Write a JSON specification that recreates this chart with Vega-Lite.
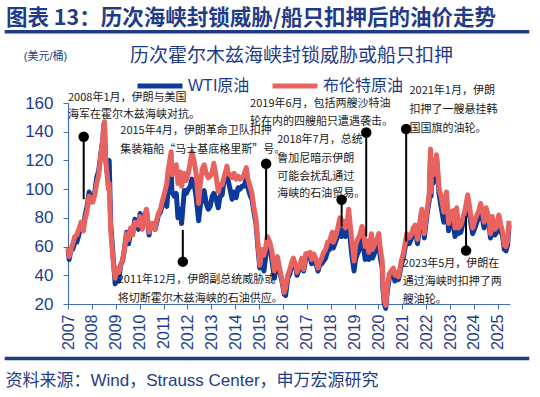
{
  "$schema": "https://vega.github.io/schema/vega-lite/v6.json",
  "width": 442,
  "height": 201,
  "autosize": {"type": "none"},
  "padding": {"left": 68, "top": 103, "right": 30, "bottom": 93},
  "background": "white",
  "config": {
    "view": {"stroke": null},
    "font": "Liberation Sans, Noto Sans CJK SC",
    "axis": {"labelOverlap": false}
  },
  "title": {
    "text": "图表 13：历次海峡封锁威胁/船只扣押后的油价走势",
    "anchor": "start",
    "frame": "bounds",
    "offset": 2,
    "dx": 3,
    "dy": 2,
    "fontSize": 21.5,
    "fontWeight": "bold",
    "font": "Noto Sans CJK SC",
    "color": "#1F3C88"
  },
  "datasets": {
    "prices": [
      {"date": "2007-01-03", "wti": 58, "brent": 59},
      {"date": "2007-01-18", "wti": 51, "brent": 53},
      {"date": "2007-02-15", "wti": 58, "brent": 58},
      {"date": "2007-03-15", "wti": 58, "brent": 62},
      {"date": "2007-04-15", "wti": 63, "brent": 67},
      {"date": "2007-05-15", "wti": 63, "brent": 68},
      {"date": "2007-06-15", "wti": 68, "brent": 72},
      {"date": "2007-07-20", "wti": 75, "brent": 77},
      {"date": "2007-08-20", "wti": 71, "brent": 71},
      {"date": "2007-09-20", "wti": 82, "brent": 79},
      {"date": "2007-10-20", "wti": 88, "brent": 85},
      {"date": "2007-11-20", "wti": 98, "brent": 95},
      {"date": "2007-12-15", "wti": 91, "brent": 92},
      {"date": "2008-01-15", "wti": 92, "brent": 91},
      {"date": "2008-02-15", "wti": 98, "brent": 96},
      {"date": "2008-03-15", "wti": 108, "brent": 104},
      {"date": "2008-04-15", "wti": 113, "brent": 110},
      {"date": "2008-05-15", "wti": 124, "brent": 123},
      {"date": "2008-06-15", "wti": 134, "brent": 134},
      {"date": "2008-07-03", "wti": 145, "brent": 145},
      {"date": "2008-07-11", "wti": 146, "brent": 147},
      {"date": "2008-07-25", "wti": 124, "brent": 124},
      {"date": "2008-08-15", "wti": 115, "brent": 113},
      {"date": "2008-09-10", "wti": 103, "brent": 100},
      {"date": "2008-09-22", "wti": 120, "brent": 104},
      {"date": "2008-10-15", "wti": 76, "brent": 72},
      {"date": "2008-11-15", "wti": 57, "brent": 53},
      {"date": "2008-12-22", "wti": 34, "brent": 38},
      {"date": "2009-01-15", "wti": 38, "brent": 45},
      {"date": "2009-02-15", "wti": 36, "brent": 42},
      {"date": "2009-03-15", "wti": 47, "brent": 47},
      {"date": "2009-04-15", "wti": 50, "brent": 51},
      {"date": "2009-05-15", "wti": 59, "brent": 58},
      {"date": "2009-06-15", "wti": 70, "brent": 69},
      {"date": "2009-07-15", "wti": 62, "brent": 65},
      {"date": "2009-08-15", "wti": 70, "brent": 73},
      {"date": "2009-09-15", "wti": 69, "brent": 68},
      {"date": "2009-10-20", "wti": 79, "brent": 77},
      {"date": "2009-11-15", "wti": 78, "brent": 77},
      {"date": "2009-12-15", "wti": 72, "brent": 75},
      {"date": "2010-01-08", "wti": 83, "brent": 81},
      {"date": "2010-02-10", "wti": 73, "brent": 72},
      {"date": "2010-03-15", "wti": 81, "brent": 79},
      {"date": "2010-04-15", "wti": 85, "brent": 86},
      {"date": "2010-05-25", "wti": 68, "brent": 70},
      {"date": "2010-06-15", "wti": 76, "brent": 76},
      {"date": "2010-07-15", "wti": 76, "brent": 76},
      {"date": "2010-08-25", "wti": 72, "brent": 72},
      {"date": "2010-09-15", "wti": 76, "brent": 78},
      {"date": "2010-10-15", "wti": 82, "brent": 83},
      {"date": "2010-11-15", "wti": 84, "brent": 86},
      {"date": "2010-12-15", "wti": 89, "brent": 92},
      {"date": "2011-01-15", "wti": 90, "brent": 97},
      {"date": "2011-02-20", "wti": 88, "brent": 104},
      {"date": "2011-03-15", "wti": 102, "brent": 114},
      {"date": "2011-04-28", "wti": 113, "brent": 126},
      {"date": "2011-05-10", "wti": 98, "brent": 110},
      {"date": "2011-06-15", "wti": 95, "brent": 113},
      {"date": "2011-07-15", "wti": 97, "brent": 117},
      {"date": "2011-08-10", "wti": 80, "brent": 104},
      {"date": "2011-09-15", "wti": 86, "brent": 112},
      {"date": "2011-10-04", "wti": 76, "brent": 102},
      {"date": "2011-11-15", "wti": 99, "brent": 111},
      {"date": "2011-12-15", "wti": 97, "brent": 106},
      {"date": "2012-01-15", "wti": 100, "brent": 111},
      {"date": "2012-02-15", "wti": 102, "brent": 119},
      {"date": "2012-03-10", "wti": 107, "brent": 126},
      {"date": "2012-04-15", "wti": 103, "brent": 119},
      {"date": "2012-05-15", "wti": 94, "brent": 110},
      {"date": "2012-06-21", "wti": 78, "brent": 90},
      {"date": "2012-07-15", "wti": 88, "brent": 103},
      {"date": "2012-08-15", "wti": 95, "brent": 114},
      {"date": "2012-09-14", "wti": 99, "brent": 117},
      {"date": "2012-10-15", "wti": 90, "brent": 111},
      {"date": "2012-11-15", "wti": 86, "brent": 108},
      {"date": "2012-12-15", "wti": 88, "brent": 109},
      {"date": "2013-01-15", "wti": 95, "brent": 112},
      {"date": "2013-02-08", "wti": 97, "brent": 118},
      {"date": "2013-03-15", "wti": 93, "brent": 109},
      {"date": "2013-04-17", "wti": 87, "brent": 98},
      {"date": "2013-05-15", "wti": 95, "brent": 103},
      {"date": "2013-06-15", "wti": 96, "brent": 103},
      {"date": "2013-07-19", "wti": 108, "brent": 109},
      {"date": "2013-08-28", "wti": 110, "brent": 116},
      {"date": "2013-09-15", "wti": 106, "brent": 111},
      {"date": "2013-10-15", "wti": 100, "brent": 110},
      {"date": "2013-11-15", "wti": 93, "brent": 108},
      {"date": "2013-12-15", "wti": 98, "brent": 111},
      {"date": "2014-01-15", "wti": 94, "brent": 107},
      {"date": "2014-02-15", "wti": 101, "brent": 109},
      {"date": "2014-03-15", "wti": 100, "brent": 107},
      {"date": "2014-04-15", "wti": 102, "brent": 108},
      {"date": "2014-05-15", "wti": 102, "brent": 110},
      {"date": "2014-06-20", "wti": 107, "brent": 115},
      {"date": "2014-07-15", "wti": 101, "brent": 107},
      {"date": "2014-08-15", "wti": 96, "brent": 102},
      {"date": "2014-09-15", "wti": 93, "brent": 97},
      {"date": "2014-10-15", "wti": 84, "brent": 87},
      {"date": "2014-11-15", "wti": 76, "brent": 79},
      {"date": "2014-12-15", "wti": 59, "brent": 62},
      {"date": "2015-01-13", "wti": 45, "brent": 47},
      {"date": "2015-02-15", "wti": 51, "brent": 58},
      {"date": "2015-03-17", "wti": 43, "brent": 54},
      {"date": "2015-04-15", "wti": 54, "brent": 60},
      {"date": "2015-05-06", "wti": 61, "brent": 67},
      {"date": "2015-06-15", "wti": 60, "brent": 63},
      {"date": "2015-07-15", "wti": 51, "brent": 57},
      {"date": "2015-08-24", "wti": 38, "brent": 43},
      {"date": "2015-09-15", "wti": 45, "brent": 48},
      {"date": "2015-10-09", "wti": 49, "brent": 53},
      {"date": "2015-11-15", "wti": 42, "brent": 44},
      {"date": "2015-12-21", "wti": 35, "brent": 36},
      {"date": "2016-01-20", "wti": 27, "brent": 28},
      {"date": "2016-02-11", "wti": 26, "brent": 31},
      {"date": "2016-03-15", "wti": 38, "brent": 40},
      {"date": "2016-04-15", "wti": 41, "brent": 44},
      {"date": "2016-05-15", "wti": 47, "brent": 49},
      {"date": "2016-06-08", "wti": 51, "brent": 52},
      {"date": "2016-07-15", "wti": 45, "brent": 47},
      {"date": "2016-08-03", "wti": 40, "brent": 42},
      {"date": "2016-09-15", "wti": 45, "brent": 47},
      {"date": "2016-10-15", "wti": 50, "brent": 52},
      {"date": "2016-11-14", "wti": 43, "brent": 44},
      {"date": "2016-12-15", "wti": 52, "brent": 55},
      {"date": "2017-01-15", "wti": 52, "brent": 55},
      {"date": "2017-02-15", "wti": 54, "brent": 56},
      {"date": "2017-03-15", "wti": 48, "brent": 51},
      {"date": "2017-04-15", "wti": 52, "brent": 55},
      {"date": "2017-05-15", "wti": 49, "brent": 52},
      {"date": "2017-06-21", "wti": 43, "brent": 45},
      {"date": "2017-07-15", "wti": 47, "brent": 49},
      {"date": "2017-08-15", "wti": 48, "brent": 52},
      {"date": "2017-09-15", "wti": 50, "brent": 56},
      {"date": "2017-10-15", "wti": 52, "brent": 58},
      {"date": "2017-11-15", "wti": 57, "brent": 63},
      {"date": "2017-12-15", "wti": 58, "brent": 64},
      {"date": "2018-01-25", "wti": 66, "brent": 70},
      {"date": "2018-02-09", "wti": 59, "brent": 63},
      {"date": "2018-03-15", "wti": 63, "brent": 67},
      {"date": "2018-04-15", "wti": 67, "brent": 72},
      {"date": "2018-05-22", "wti": 72, "brent": 80},
      {"date": "2018-06-15", "wti": 67, "brent": 75},
      {"date": "2018-07-10", "wti": 74, "brent": 78},
      {"date": "2018-08-15", "wti": 67, "brent": 73},
      {"date": "2018-09-15", "wti": 70, "brent": 79},
      {"date": "2018-10-03", "wti": 76, "brent": 86},
      {"date": "2018-11-15", "wti": 56, "brent": 66},
      {"date": "2018-12-24", "wti": 43, "brent": 50},
      {"date": "2019-01-15", "wti": 51, "brent": 60},
      {"date": "2019-02-15", "wti": 55, "brent": 65},
      {"date": "2019-03-15", "wti": 58, "brent": 67},
      {"date": "2019-04-24", "wti": 66, "brent": 74},
      {"date": "2019-05-15", "wti": 61, "brent": 71},
      {"date": "2019-06-12", "wti": 51, "brent": 60},
      {"date": "2019-07-15", "wti": 57, "brent": 64},
      {"date": "2019-08-07", "wti": 51, "brent": 56},
      {"date": "2019-09-16", "wti": 63, "brent": 69},
      {"date": "2019-10-03", "wti": 52, "brent": 58},
      {"date": "2019-11-15", "wti": 57, "brent": 63},
      {"date": "2019-12-15", "wti": 60, "brent": 66},
      {"date": "2020-01-06", "wti": 63, "brent": 69},
      {"date": "2020-01-31", "wti": 52, "brent": 58},
      {"date": "2020-02-28", "wti": 45, "brent": 50},
      {"date": "2020-03-09", "wti": 31, "brent": 34},
      {"date": "2020-03-30", "wti": 20, "brent": 23},
      {"date": "2020-04-21", "wti": 17, "brent": 19},
      {"date": "2020-05-15", "wti": 29, "brent": 32},
      {"date": "2020-06-15", "wti": 38, "brent": 41},
      {"date": "2020-07-15", "wti": 41, "brent": 43},
      {"date": "2020-08-15", "wti": 42, "brent": 45},
      {"date": "2020-09-08", "wti": 36, "brent": 40},
      {"date": "2020-10-15", "wti": 40, "brent": 42},
      {"date": "2020-11-02", "wti": 37, "brent": 39},
      {"date": "2020-12-15", "wti": 47, "brent": 50},
      {"date": "2021-01-15", "wti": 52, "brent": 55},
      {"date": "2021-02-15", "wti": 60, "brent": 63},
      {"date": "2021-03-08", "wti": 65, "brent": 69},
      {"date": "2021-04-15", "wti": 62, "brent": 66},
      {"date": "2021-05-15", "wti": 65, "brent": 68},
      {"date": "2021-06-15", "wti": 71, "brent": 73},
      {"date": "2021-07-15", "wti": 72, "brent": 75},
      {"date": "2021-08-20", "wti": 62, "brent": 65},
      {"date": "2021-09-15", "wti": 71, "brent": 74},
      {"date": "2021-10-25", "wti": 84, "brent": 86},
      {"date": "2021-11-15", "wti": 80, "brent": 82},
      {"date": "2021-12-02", "wti": 66, "brent": 69},
      {"date": "2022-01-15", "wti": 83, "brent": 86},
      {"date": "2022-02-15", "wti": 92, "brent": 96},
      {"date": "2022-03-08", "wti": 124, "brent": 128},
      {"date": "2022-03-16", "wti": 95, "brent": 98},
      {"date": "2022-03-24", "wti": 112, "brent": 121},
      {"date": "2022-04-15", "wti": 104, "brent": 110},
      {"date": "2022-05-15", "wti": 110, "brent": 112},
      {"date": "2022-06-08", "wti": 122, "brent": 124},
      {"date": "2022-07-15", "wti": 97, "brent": 101},
      {"date": "2022-08-15", "wti": 88, "brent": 95},
      {"date": "2022-09-26", "wti": 77, "brent": 84},
      {"date": "2022-10-15", "wti": 86, "brent": 93},
      {"date": "2022-11-07", "wti": 92, "brent": 98},
      {"date": "2022-12-09", "wti": 71, "brent": 76},
      {"date": "2023-01-15", "wti": 79, "brent": 84},
      {"date": "2023-02-15", "wti": 78, "brent": 85},
      {"date": "2023-03-17", "wti": 67, "brent": 73},
      {"date": "2023-04-12", "wti": 83, "brent": 87},
      {"date": "2023-05-04", "wti": 69, "brent": 73},
      {"date": "2023-06-15", "wti": 70, "brent": 75},
      {"date": "2023-07-15", "wti": 76, "brent": 80},
      {"date": "2023-08-15", "wti": 81, "brent": 85},
      {"date": "2023-09-27", "wti": 93, "brent": 96},
      {"date": "2023-10-15", "wti": 87, "brent": 91},
      {"date": "2023-11-15", "wti": 76, "brent": 81},
      {"date": "2023-12-12", "wti": 69, "brent": 73},
      {"date": "2024-01-15", "wti": 73, "brent": 78},
      {"date": "2024-02-15", "wti": 77, "brent": 82},
      {"date": "2024-03-15", "wti": 81, "brent": 85},
      {"date": "2024-04-12", "wti": 86, "brent": 90},
      {"date": "2024-05-15", "wti": 78, "brent": 83},
      {"date": "2024-06-04", "wti": 73, "brent": 77},
      {"date": "2024-07-05", "wti": 83, "brent": 87},
      {"date": "2024-08-15", "wti": 77, "brent": 80},
      {"date": "2024-09-10", "wti": 66, "brent": 69},
      {"date": "2024-10-07", "wti": 77, "brent": 81},
      {"date": "2024-11-15", "wti": 68, "brent": 72},
      {"date": "2024-12-15", "wti": 70, "brent": 74},
      {"date": "2025-01-15", "wti": 80, "brent": 82},
      {"date": "2025-02-15", "wti": 71, "brent": 75},
      {"date": "2025-03-15", "wti": 67, "brent": 70},
      {"date": "2025-04-09", "wti": 58, "brent": 61},
      {"date": "2025-05-05", "wti": 57, "brent": 60},
      {"date": "2025-05-30", "wti": 61, "brent": 64},
      {"date": "2025-06-20", "wti": 75, "brent": 78}
    ],
    "events": [
      {"date": "2007-08-29", "dot": 136.5, "end": 93},
      {"date": "2011-10-23", "dot": 49.5, "end": 71.6},
      {"date": "2015-04-19", "dot": 117.7, "end": 64.7},
      {"date": "2018-06-17", "dot": 92.6, "end": 74},
      {"date": "2019-06-28", "dot": 139.5, "end": 67},
      {"date": "2021-02-28", "dot": 141.9, "end": 63.5},
      {"date": "2023-09-02", "dot": 57.2, "end": 81}
    ],
    "notes": [
      {"date": "2007-01-01", "price": 163.7, "label": "2008年1月，伊朗与美国"},
      {"date": "2007-01-01", "price": 151.8, "label": "海军在霍尔木兹海峡对抗。"},
      {"date": "2009-01-30", "price": 36.9, "label": "2011年12月，伊朗副总统威胁或"},
      {"date": "2009-01-30", "price": 23.6, "label": "将切断霍尔木兹海峡的石油供应。"},
      {"date": "2009-03-11", "price": 140.2, "label": "2015年4月，伊朗革命卫队扣押"},
      {"date": "2009-03-11", "price": 127.4, "label": "集装箱船“马士基底格里斯”号。"},
      {"date": "2015-10-05", "price": 134.4, "label": "2018年7月，总统"},
      {"date": "2015-10-05", "price": 121.2, "label": "鲁加尼暗示伊朗"},
      {"date": "2015-10-05", "price": 108.8, "label": "可能会扰乱通过"},
      {"date": "2015-10-05", "price": 96.8, "label": "海峡的石油贸易。"},
      {"date": "2014-08-17", "price": 159.3, "label": "2019年6月，包括两艘沙特油"},
      {"date": "2014-08-17", "price": 146.5, "label": "轮在内的四艘船只遭遇袭击。"},
      {"date": "2021-04-19", "price": 168.1, "label": "2021年1月，伊朗"},
      {"date": "2021-04-19", "price": 155.3, "label": "扣押了一艘悬挂韩"},
      {"date": "2021-04-19", "price": 142.1, "label": "国国旗的油轮。"},
      {"date": "2021-01-08", "price": 48.0, "label": "2023年5月，伊朗在"},
      {"date": "2021-01-08", "price": 35.4, "label": "通过海峡时扣押了两"},
      {"date": "2021-01-08", "price": 22.9, "label": "艘油轮。"}
    ],
    "frame": [{}]
  },
  "layer": [
    {
      "data": {"name": "prices"},
      "mark": {"type": "line", "strokeWidth": 5, "strokeJoin": "round"},
      "encoding": {
        "x": {
          "field": "date", "type": "temporal",
          "title": "资料来源：Wind，Strauss Center，申万宏源研究",
          "scale": {"type": "utc", "domain": [{"year": 2007, "month": 1, "date": 1, "utc": true}, {"year": 2025, "month": 7, "date": 5, "utc": true}]},
          "axis": {
            "tickCount": {"interval": "year", "step": 1},
            "format": "%Y",
            "labelAngle": 270,
            "labelFontSize": 16,
            "labelColor": "#1F3C88",
            "labelPadding": 5,
            "tickSize": 5,
            "tickColor": "#4A6EB5",
            "domainColor": "#4A6EB5",
            "domainWidth": 1.2,
            "grid": false,
            "labelFlush": false,
            "labelOverlap": false,
            "titleX": -63,
            "titleY": 76,
            "titleAlign": "left",
            "titleBaseline": "middle",
            "titleFontSize": 17,
            "titleFontWeight": "normal",
            "titleColor": "#1F3C88",
            "titleLimit": 600
          }
        },
        "y": {
          "field": "wti", "type": "quantitative",
          "title": "(美元/桶)",
          "scale": {"domain": [20, 160], "nice": false, "zero": false},
          "axis": {
            "values": [20, 40, 60, 80, 100, 120, 140, 160],
            "tickCount": 8,
            "labelOverlap": false,
            "labelFlush": false,
            "labelFontSize": 17,
            "labelColor": "#1F3C88",
            "labelPadding": 10,
            "tickSize": 5,
            "tickColor": "#4A6EB5",
            "domainColor": "#4A6EB5",
            "domainWidth": 1.2,
            "grid": false,
            "titleAngle": 0,
            "titleX": -23,
            "titleY": -47,
            "titleAlign": "center",
            "titleBaseline": "middle",
            "titleFontSize": 11,
            "titleFontWeight": "normal",
            "titleColor": "#1F3C88"
          }
        },
        "color": {
          "datum": "WTI原油",
          "scale": {"domain": ["WTI原油", "布伦特原油"], "range": ["#0B3A9A", "#E8625F"]},
          "legend": {
            "orient": "none",
            "legendX": 62,
            "legendY": -56,
            "direction": "horizontal",
            "title": "历次霍尔木兹海峡封锁威胁或船只扣押",
            "titleOrient": "top",
            "titleAnchor": "start",
            "titleFontSize": 19,
            "titleFontWeight": "normal",
            "titleFont": "Noto Sans CJK SC",
            "titleColor": "#1F3C88",
            "titleLimit": 500,
            "titlePadding": -5,
            "symbolType": "stroke",
            "symbolSize": 2025,
            "symbolStrokeWidth": 5,
            "symbolOffset": 5,
            "labelFontSize": 16,
            "labelColor": "#1F3C88",
            "labelOffset": 3,
            "columnPadding": 12,
            "labelLimit": 200
          }
        }
      }
    },
    {
      "data": {"name": "prices"},
      "mark": {"type": "line", "strokeWidth": 5, "strokeJoin": "round"},
      "encoding": {
        "x": {"field": "date", "type": "temporal", "title": "资料来源：Wind，Strauss Center，申万宏源研究"},
        "y": {"field": "brent", "type": "quantitative", "title": "(美元/桶)"},
        "color": {"datum": "布伦特原油"}
      }
    },
    {
      "data": {"name": "events"},
      "mark": {"type": "rule", "color": "#000000", "strokeWidth": 2},
      "encoding": {
        "x": {"field": "date", "type": "temporal", "title": "资料来源：Wind，Strauss Center，申万宏源研究"},
        "y": {"field": "dot", "type": "quantitative", "title": "(美元/桶)"},
        "y2": {"field": "end"}
      }
    },
    {
      "data": {"name": "events"},
      "mark": {"type": "circle", "color": "#000000", "opacity": 1, "size": 110},
      "encoding": {
        "x": {"field": "date", "type": "temporal", "title": "资料来源：Wind，Strauss Center，申万宏源研究"},
        "y": {"field": "dot", "type": "quantitative", "title": "(美元/桶)"}
      }
    },
    {
      "data": {"name": "notes"},
      "mark": {"type": "text", "align": "left", "baseline": "middle", "fontSize": 11, "font": "Noto Sans CJK SC", "color": "#1A1A1A"},
      "encoding": {
        "x": {"field": "date", "type": "temporal", "title": "资料来源：Wind，Strauss Center，申万宏源研究"},
        "y": {"field": "price", "type": "quantitative", "title": "(美元/桶)"},
        "text": {"field": "label"}
      }
    },
    {
      "data": {"name": "frame"},
      "mark": {"type": "rule", "color": "#1F3C88", "strokeWidth": 3.5, "strokeCap": "butt"},
      "encoding": {
        "x": {"datum": {"year": 2004, "month": 5, "date": 8, "utc": true}, "type": "temporal"},
        "x2": {"datum": {"year": 2026, "month": 4, "date": 26, "utc": true}},
        "y": {"datum": 209.7, "type": "quantitative"}
      }
    },
    {
      "data": {"name": "frame"},
      "mark": {"type": "rule", "color": "#1F3C88", "strokeWidth": 3.5, "strokeCap": "butt"},
      "encoding": {
        "x": {"datum": {"year": 2004, "month": 5, "date": 8, "utc": true}, "type": "temporal"},
        "x2": {"datum": {"year": 2026, "month": 4, "date": 26, "utc": true}},
        "y": {"datum": -18.0, "type": "quantitative"}
      }
    }
  ]
}
